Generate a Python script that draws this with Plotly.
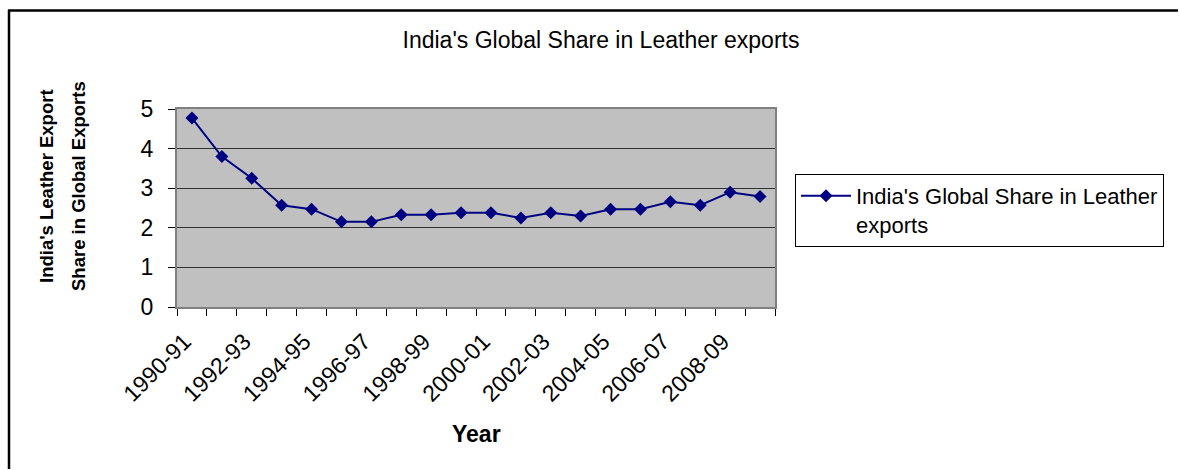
import plotly.graph_objects as go

years = ["1990-91", "1991-92", "1992-93", "1993-94", "1994-95", "1995-96", "1996-97",
         "1997-98", "1998-99", "1999-00", "2000-01", "2001-02", "2002-03", "2003-04",
         "2004-05", "2005-06", "2006-07", "2007-08", "2008-09", "2009-10"]
share = [4.77, 3.80, 3.25, 2.57, 2.47, 2.15, 2.15, 2.33, 2.33, 2.38,
         2.38, 2.25, 2.38, 2.30, 2.47, 2.47, 2.66, 2.57, 2.90, 2.79]
series_name = "India's Global Share in Leather<br>exports"
chart_title = "India's Global Share in Leather exports"
x_title = "Year"
y_title_lines = ["India's Leather Export", "Share in Global Exports"]

W, H = 1179, 470
L, R, T, B = 177, 775, 109, 307  # plot area in pixels
pw, ph = R - L, B - T

def px_x(p):
    return (p - L) / pw

def px_y(p):
    return (B - p) / ph

idx = list(range(len(years)))
FONT = "Liberation Sans, Arial, sans-serif"

fig = go.Figure()
fig.add_trace(go.Scatter(
    x=idx, y=share, mode="lines+markers", name=series_name,
    line=dict(color="#000080", width=2),
    marker=dict(symbol="diamond", size=10, color="#000080"),
    showlegend=True,
))

fig.update_layout(
    width=W, height=H,
    margin=dict(l=L, r=W - R, t=T, b=H - B, pad=0),
    paper_bgcolor="white",
    plot_bgcolor="#C0C0C0",
    font=dict(family=FONT, size=22, color="black"),
    title=dict(text=chart_title, x=601 / W, xanchor="center",
               y=1 - 40 / H, yanchor="middle", font=dict(size=23)),
    showlegend=True,
    legend=dict(x=px_x(795), y=px_y(174), xanchor="left", yanchor="top",
                bgcolor="white", bordercolor="#000000", borderwidth=1,
                font=dict(size=22), valign="top", itemwidth=50),
)

fig.update_xaxes(
    range=[-0.5, len(years) - 0.5],
    tickmode="array", tickvals=[i - 0.25 for i in idx[::2]], ticktext=years[::2],
    tickangle=-45, ticks="", showgrid=False, zeroline=False,
    showline=True, linecolor="#808080", linewidth=2, mirror=True,
    tickfont=dict(size=23), ticklabelstandoff=10,
    minor=dict(tickmode="array", tickvals=[i - 0.5 for i in range(len(years) + 1)],
               ticks="outside", ticklen=7, tickcolor="#000000", tickwidth=1,
               showgrid=False),
)
fig.update_yaxes(
    range=[0, 5], dtick=1, ticks="outside", ticklen=7, tickcolor="#000000",
    showgrid=True, gridcolor="#303030", gridwidth=1, zeroline=False,
    showline=True, linecolor="#808080", linewidth=2, mirror=True,
    tickfont=dict(size=23), ticklabelstandoff=10,
)

# axis titles
fig.add_annotation(text="<b>" + x_title + "</b>", xref="paper", yref="paper",
                   x=px_x(476), y=px_y(434), xanchor="center", yanchor="middle",
                   showarrow=False, font=dict(size=23))
for xp, line in zip([46, 78], y_title_lines):
    fig.add_annotation(text="<b>" + line + "</b>", xref="paper", yref="paper",
                       x=px_x(xp), y=px_y(186), xanchor="center", yanchor="middle",
                       textangle=-90, showarrow=False, font=dict(size=18.5))

# outer chart frame (top and left edges visible in the picture)
fig.add_shape(type="line", xref="paper", yref="paper",
              x0=px_x(8), x1=px_x(W - 1), y0=px_y(10.5), y1=px_y(10.5),
              line=dict(color="black", width=2.5))
fig.add_shape(type="line", xref="paper", yref="paper",
              x0=px_x(9), x1=px_x(9), y0=px_y(10), y1=px_y(H - 1),
              line=dict(color="black", width=2.5))

fig.write_html("out.html")
